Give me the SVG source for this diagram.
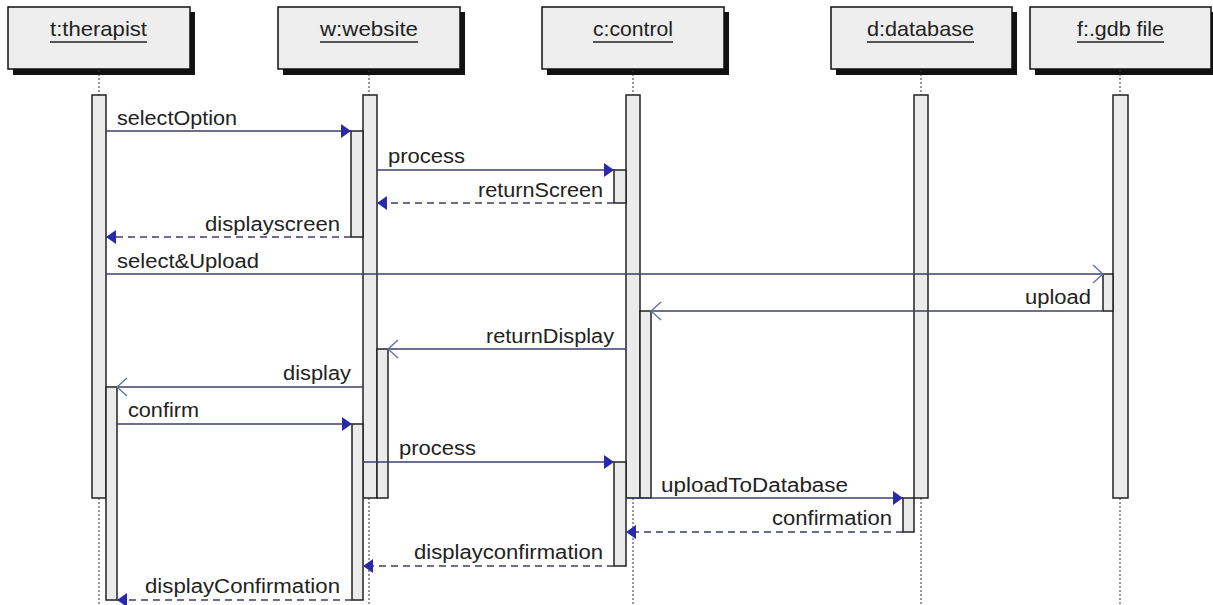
<svg xmlns="http://www.w3.org/2000/svg" width="1213" height="605" viewBox="0 0 1213 605">
<style>
.bg{fill:#ffffff}
.box{fill:#eeeeee;stroke:#111;stroke-width:1.5}
.shadow{fill:#111}
.title{font-family:"Liberation Sans",Arial,sans-serif;font-size:21px;fill:#222}
.uline{stroke:#222;stroke-width:1.3}
.life{stroke:#333;stroke-width:1;stroke-dasharray:2,2}
.bar{fill:#ebebeb;stroke:#222;stroke-width:1.5}
.msg{stroke:#3b3f6b;stroke-width:1.5;fill:none}
.ret{stroke:#3b3f6b;stroke-width:1.5;stroke-dasharray:7,5;fill:none}
.lbl{font-family:"Liberation Sans",Arial,sans-serif;font-size:20px;fill:#222}
</style>
<defs>
<marker id="fa" viewBox="0 0 10 14" refX="10" refY="7" markerWidth="10" markerHeight="14" markerUnits="userSpaceOnUse" orient="auto"><path d="M0,0 L10,7 L0,14 z" fill="#2a2aa8"/></marker>
<marker id="oa" viewBox="0 0 12 20" refX="11" refY="10" markerWidth="12" markerHeight="20" markerUnits="userSpaceOnUse" orient="auto"><path d="M1,1 L11,10 L1,19" fill="none" stroke="#6a72a8" stroke-width="1.5"/></marker>
</defs>
<rect class="bg" x="0" y="0" width="1213" height="605"/>

<g id="therapist">
<rect class="shadow" x="13" y="12" width="182" height="63"/>
<rect class="box" x="8" y="7" width="182" height="62"/>
<text class="title" x="50" y="36" textLength="97" lengthAdjust="spacingAndGlyphs">t:therapist</text>
<line class="uline" x1="50" y1="42" x2="147" y2="42"/>
<line class="life" x1="99" y1="70" x2="99" y2="605"/>
<rect class="bar" x="92" y="95" width="14" height="403"/>
<rect class="bar" x="106" y="387" width="11" height="213"/>
</g>

<g id="website">
<rect class="shadow" x="283" y="12" width="182" height="63"/>
<rect class="box" x="278" y="7" width="182" height="62"/>
<text class="title" x="320" y="36" textLength="98" lengthAdjust="spacingAndGlyphs">w:website</text>
<line class="uline" x1="320" y1="42" x2="418" y2="42"/>
<line class="life" x1="369" y1="70" x2="369" y2="605"/>
<rect class="bar" x="363" y="95" width="14" height="403"/>
<rect class="bar" x="351" y="131" width="12" height="106"/>
<rect class="bar" x="377" y="349" width="11" height="149"/>
<rect class="bar" x="352" y="424" width="11" height="176"/>
</g>

<g id="control">
<rect class="shadow" x="547" y="12" width="182" height="63"/>
<rect class="box" x="542" y="7" width="182" height="62"/>
<text class="title" x="593" y="36" textLength="80" lengthAdjust="spacingAndGlyphs">c:control</text>
<line class="uline" x1="593" y1="42" x2="673" y2="42"/>
<line class="life" x1="633" y1="70" x2="633" y2="605"/>
<rect class="bar" x="626" y="95" width="14" height="403"/>
<rect class="bar" x="614" y="170" width="12" height="33"/>
<rect class="bar" x="640" y="311" width="11" height="187"/>
<rect class="bar" x="614" y="462" width="12" height="104"/>
</g>

<g id="database">
<rect class="shadow" x="836" y="12" width="181" height="63"/>
<rect class="box" x="831" y="7" width="181" height="62"/>
<text class="title" x="867" y="36" textLength="107" lengthAdjust="spacingAndGlyphs">d:database</text>
<line class="uline" x1="867" y1="42" x2="974" y2="42"/>
<line class="life" x1="921" y1="70" x2="921" y2="605"/>
<rect class="bar" x="914" y="95" width="14" height="403"/>
<rect class="bar" x="903" y="498" width="11" height="34"/>
</g>

<g id="gdbfile">
<rect class="shadow" x="1035" y="12" width="178" height="63"/>
<rect class="box" x="1030" y="7" width="181" height="62"/>
<text class="title" x="1077" y="36" textLength="87" lengthAdjust="spacingAndGlyphs">f:.gdb file</text>
<line class="uline" x1="1077" y1="42" x2="1164" y2="42"/>
<line class="life" x1="1120" y1="70" x2="1120" y2="605"/>
<rect class="bar" x="1113" y="95" width="15" height="403"/>
<rect class="bar" x="1103" y="274" width="10" height="37"/>
</g>

<g id="connectors">
<path class="msg" d="M106,131 H351" marker-end="url(#fa)"/>
<text class="lbl" x="117" y="125" textLength="120" lengthAdjust="spacingAndGlyphs">selectOption</text>

<path class="msg" d="M377,170 H614" marker-end="url(#fa)"/>
<text class="lbl" x="388" y="163" textLength="77" lengthAdjust="spacingAndGlyphs">process</text>

<path class="ret" d="M614,203 H377" marker-end="url(#fa)"/>
<text class="lbl" x="478" y="197" textLength="125" lengthAdjust="spacingAndGlyphs">returnScreen</text>

<path class="ret" d="M351,237 H106" marker-end="url(#fa)"/>
<text class="lbl" x="205" y="231" textLength="135" lengthAdjust="spacingAndGlyphs">displayscreen</text>

<path class="msg" d="M106,274 H1103" marker-end="url(#oa)"/>
<text class="lbl" x="117" y="268" textLength="142" lengthAdjust="spacingAndGlyphs">select&amp;Upload</text>

<path class="msg" d="M1103,311 H651" marker-end="url(#oa)"/>
<text class="lbl" x="1025" y="304" textLength="66" lengthAdjust="spacingAndGlyphs">upload</text>

<path class="msg" d="M626,349 H388" marker-end="url(#oa)"/>
<text class="lbl" x="486" y="343" textLength="128" lengthAdjust="spacingAndGlyphs">returnDisplay</text>

<path class="msg" d="M363,387 H117" marker-end="url(#oa)"/>
<text class="lbl" x="283" y="380" textLength="68" lengthAdjust="spacingAndGlyphs">display</text>

<path class="msg" d="M117,424 H352" marker-end="url(#fa)"/>
<text class="lbl" x="128" y="417" textLength="71" lengthAdjust="spacingAndGlyphs">confirm</text>

<path class="msg" d="M363,462 H614" marker-end="url(#fa)"/>
<text class="lbl" x="399" y="455" textLength="77" lengthAdjust="spacingAndGlyphs">process</text>

<path class="msg" d="M626,498 H903" marker-end="url(#fa)"/>
<text class="lbl" x="661" y="492" textLength="187" lengthAdjust="spacingAndGlyphs">uploadToDatabase</text>

<path class="ret" d="M903,532 H626" marker-end="url(#fa)"/>
<text class="lbl" x="772" y="525" textLength="120" lengthAdjust="spacingAndGlyphs">confirmation</text>

<path class="ret" d="M614,566 H363" marker-end="url(#fa)"/>
<text class="lbl" x="414" y="559" textLength="189" lengthAdjust="spacingAndGlyphs">displayconfirmation</text>

<path class="ret" d="M352,600 H117" marker-end="url(#fa)"/>
<text class="lbl" x="145" y="593" textLength="195" lengthAdjust="spacingAndGlyphs">displayConfirmation</text>
</g>
</svg>
